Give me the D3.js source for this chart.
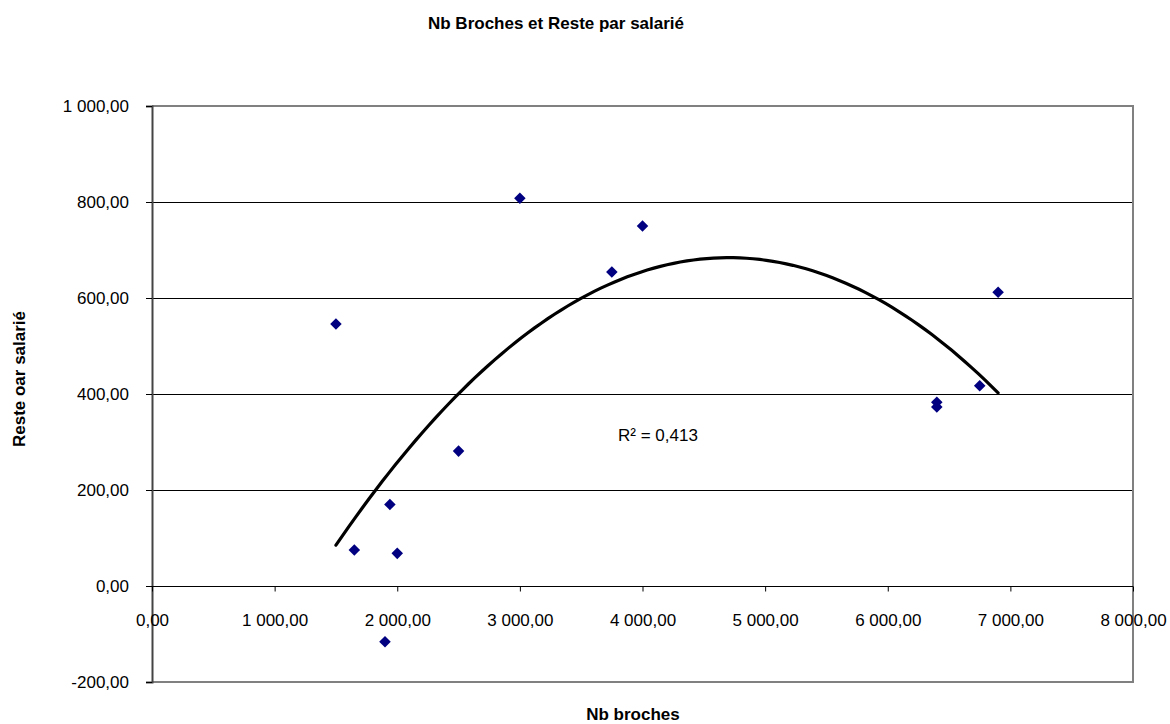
<!DOCTYPE html>
<html>
<head>
<meta charset="utf-8">
<script src="https://cdn.jsdelivr.net/npm/d3@7"></script>
<style>
  body { margin: 0; background: #fff; }
  text { font-family: "Liberation Sans", Arial, sans-serif; }
</style>
</head>
<body>
<script>
// values
const broches = [1500, 1650, 1900, 1940, 2000, 2500, 3000, 3750, 4000, 6400, 6400, 6750, 6900]
const reste = [546, 75, -116, 170, 68, 281, 808, 654, 750, 383, 373, 417, 612]
const xTicks = [0, 1000, 2000, 3000, 4000, 5000, 6000, 7000, 8000]
const yTicks = [-200, 0, 200, 400, 600, 800, 1000]
const r2Label = "R² = 0,413"

const width = 1170
const height = 724
const plot = {left: 152, right: 1133, top: 106, bottom: 682}

const fr = d3.formatLocale({decimal: ",", thousands: " ", grouping: [3], currency: ["", ""], minus: "-"})
const fmt = fr.format(",.2f")

const svg = d3.select("body").append("svg")
    .attr("width", width)
    .attr("height", height)

const x = d3.scaleLinear().domain([0, 8000]).range([plot.left, plot.right])
const y = d3.scaleLinear().domain([-200, 1000]).range([plot.bottom, plot.top])

// gridlines
svg.append("g")
    .selectAll("line")
    .data(yTicks.filter(d => d !== 1000 && d !== -200 && d !== 0))
    .enter().append("line")
    .attr("x1", plot.left).attr("x2", plot.right)
    .attr("y1", d => Math.round(y(d)) + 0.5).attr("y2", d => Math.round(y(d)) + 0.5)
    .attr("stroke", "#000").attr("stroke-width", 1)

// plot border (top, right, bottom)
svg.append("path")
    .attr("d", `M${plot.left},${plot.top}H${plot.right}V${plot.bottom}H${plot.left}`)
    .attr("fill", "none")
    .attr("stroke", "#808080")
    .attr("stroke-width", 2)

// y axis
const yAxis = d3.axisLeft(y).tickValues(yTicks).tickSize(6).tickPadding(17).tickFormat(fmt)
const gy = svg.append("g")
    .attr("transform", `translate(${plot.left},0)`)
    .call(yAxis)
gy.select(".domain").attr("stroke", "#444").attr("stroke-width", 2)
gy.selectAll(".tick line").attr("stroke", "#000")
gy.selectAll(".tick text").attr("font-size", 17).attr("fill", "#000")
    .attr("font-family", "Liberation Sans, Arial, sans-serif")

// x axis on the zero line
const xAxis = d3.axisBottom(x).tickValues(xTicks).tickSize(5).tickPadding(22).tickFormat(fmt)
const gx = svg.append("g")
    .attr("transform", `translate(0,${Math.round(y(0)) + 0.5})`)
    .call(xAxis)
gx.select(".domain").attr("stroke", "#000").attr("stroke-width", 1)
    .attr("d", `M${plot.left},0H${plot.right}`)
gx.selectAll(".tick line").attr("stroke", "#000")
gx.selectAll(".tick text").attr("font-size", 17).attr("fill", "#000")
    .attr("font-family", "Liberation Sans, Arial, sans-serif")

// polynomial (order 2) trend line, least squares on the points
function quadFit(xs, ys) {
    let s = [0, 0, 0, 0, 0], t = [0, 0, 0]
    xs.forEach((xv, i) => {
        const u = xv / 1000
        for (let k = 0; k < 5; k++) s[k] += Math.pow(u, k)
        for (let k = 0; k < 3; k++) t[k] += ys[i] * Math.pow(u, k)
    })
    const A = [[s[0], s[1], s[2], t[0]], [s[1], s[2], s[3], t[1]], [s[2], s[3], s[4], t[2]]]
    for (let i = 0; i < 3; i++) {
        for (let j = i + 1; j < 3; j++) {
            const f = A[j][i] / A[i][i]
            for (let k = i; k < 4; k++) A[j][k] -= f * A[i][k]
        }
    }
    const c = [0, 0, 0]
    for (let i = 2; i >= 0; i--) {
        let v = A[i][3]
        for (let k = i + 1; k < 3; k++) v -= A[i][k] * c[k]
        c[i] = v / A[i][i]
    }
    return xv => { const u = xv / 1000; return c[0] + c[1] * u + c[2] * u * u }
}
const fit = quadFit(broches, reste)
const x0 = d3.min(broches), x1 = d3.max(broches)
const curvePts = d3.range(0, 101).map(i => x0 + (x1 - x0) * i / 100)

const line = d3.line()
    .x(d => x(d))
    .y(d => y(fit(d)))

svg.append("path")
    .attr("d", line(curvePts))
    .attr("fill", "none")
    .attr("stroke", "#000")
    .attr("stroke-width", 3.2)
    .attr("stroke-linecap", "round")

// points
svg.append("g")
    .selectAll("path")
    .data(broches)
    .enter().append("path")
    .attr("d", d3.symbol().type(d3.symbolDiamond2).size(85))
    .attr("transform", (d, i) => `translate(${x(d)},${y(reste[i])})`)
    .attr("fill", "#000080")

// labels
svg.append("text")
    .attr("x", 618).attr("y", 441)
    .attr("font-size", 17)
    .text(r2Label)

svg.append("text")
    .attr("x", 556).attr("y", 29)
    .attr("text-anchor", "middle")
    .attr("font-size", 17).attr("font-weight", "bold")
    .text("Nb Broches et Reste par salarié")

svg.append("text")
    .attr("x", 633).attr("y", 720)
    .attr("text-anchor", "middle")
    .attr("font-size", 17).attr("font-weight", "bold")
    .text("Nb broches")

svg.append("text")
    .attr("transform", "translate(25,379) rotate(-90)")
    .attr("text-anchor", "middle")
    .attr("font-size", 17).attr("font-weight", "bold")
    .text("Reste oar salarié")
</script>
</body>
</html>
